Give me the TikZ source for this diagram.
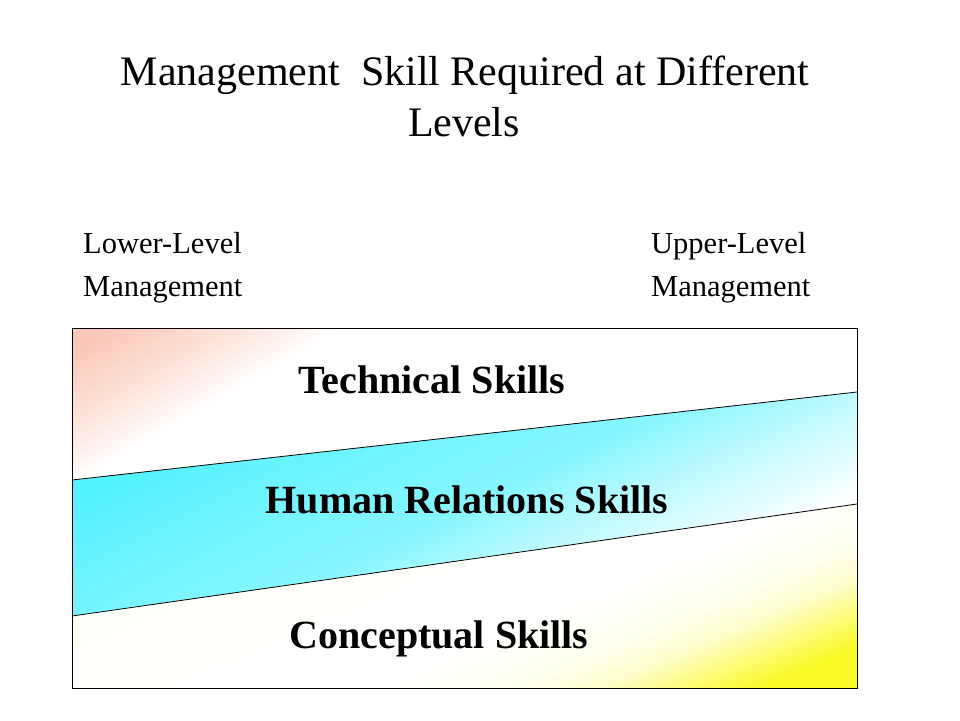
\documentclass[tikz,border=0pt]{standalone}
\usepackage{fontspec}
\setmainfont{Liberation Serif}
\usepackage{xcolor}
\usetikzlibrary{calc,positioning}
\definecolor{techpink}{RGB}{250,200,185}
\definecolor{humcyan}{RGB}{85,242,255}
\definecolor{concyellow}{RGB}{250,250,40}
\pgfdeclareverticalshading{techfade}{100bp}{color(0bp)=(white); color(62bp)=(white); color(67bp)=(techpink!50!white); color(73bp)=(techpink); color(100bp)=(techpink)}
\pgfdeclareverticalshading{humfade}{100bp}{color(0bp)=(white); color(35bp)=(white); color(44bp)=(humcyan!42!white); color(50bp)=(humcyan!72!white); color(56bp)=(humcyan!80!white); color(66bp)=(humcyan); color(100bp)=(humcyan)}
\pgfdeclareverticalshading{concfade}{100bp}{color(0bp)=(concyellow); color(29bp)=(concyellow); color(32.5bp)=(concyellow!60!white); color(35.5bp)=(concyellow!25!white); color(39bp)=(concyellow!8!white); color(45bp)=(white); color(75bp)=(white!96!concyellow); color(100bp)=(white!96!concyellow)}

\begin{document}
\begin{tikzpicture}[x=1pt, y=-1pt]
\tikzstyle{ttl}=[inner sep = 0 pt, anchor = base, font = \fontsize{42}{50}\selectfont]
\tikzstyle{lvl}=[inner sep = 0 pt, anchor = base west, font = \fontsize{30.5}{36}\selectfont]
\tikzstyle{skl}=[inner sep = 0 pt, anchor = base, font = \fontsize{40}{48}\selectfont\bfseries]
\tikzstyle{sep}=[draw, line width = 0.8 pt]
\useasboundingbox (0,0) rectangle (960,720);

% corners of the box and ends of the two dividing lines
\coordinate (TL) at (72,328);
\coordinate (TR) at (857,328);
\coordinate (BL) at (72,688);
\coordinate (BR) at (857,688);
\coordinate (U1) at (72,480);
\coordinate (U2) at (857,392);
\coordinate (L1) at (72,616);
\coordinate (L2) at (857,504);

% the three bands, each with a tilted fade
\begin{scope}
  \clip (TL) -- (TR) -- (U2) -- (U1) -- cycle;
  \shade[shading = techfade, transform canvas = {rotate around = {30:(464.5,404)}}]
    (-235.5,142) rectangle (1164.5,666);
\end{scope}
\begin{scope}
  \clip (U1) -- (U2) -- (L2) -- (L1) -- cycle;
  \shade[shading = humfade, transform canvas = {rotate around = {26:(464.5,504)}}]
    (-235.5,231.3) rectangle (1164.5,776.7);
\end{scope}
\begin{scope}
  \clip (L1) -- (L2) -- (BR) -- (BL) -- cycle;
  \shade[shading = concfade, transform canvas = {rotate around = {23:(464.5,596)}}]
    (-235.5,358) rectangle (1164.5,834);
\end{scope}
\draw[sep] (U1) -- (U2);
\draw[sep] (L1) -- (L2);
\draw[sep] (TL) rectangle (BR);

\node[ttl] (title) at (465,85) {Management\ \ Skill Required at Different};
\node[ttl] (title2) at (464,136) {Levels};

\node[lvl] (lowA) at (83,253) {Lower-Level};
\node[lvl] (lowB) at (83,296) {Management};
\node[lvl] (upA) at (651,253) {Upper-Level};
\node[lvl] (upB) at (651,296) {Management};

\node[skl] (tech) at (432,393) {Technical Skills};
\node[skl] (human) at (467,513) {Human Relations Skills};
\node[skl] (concept) at (439,648) {Conceptual Skills};
\end{tikzpicture}
\end{document}
